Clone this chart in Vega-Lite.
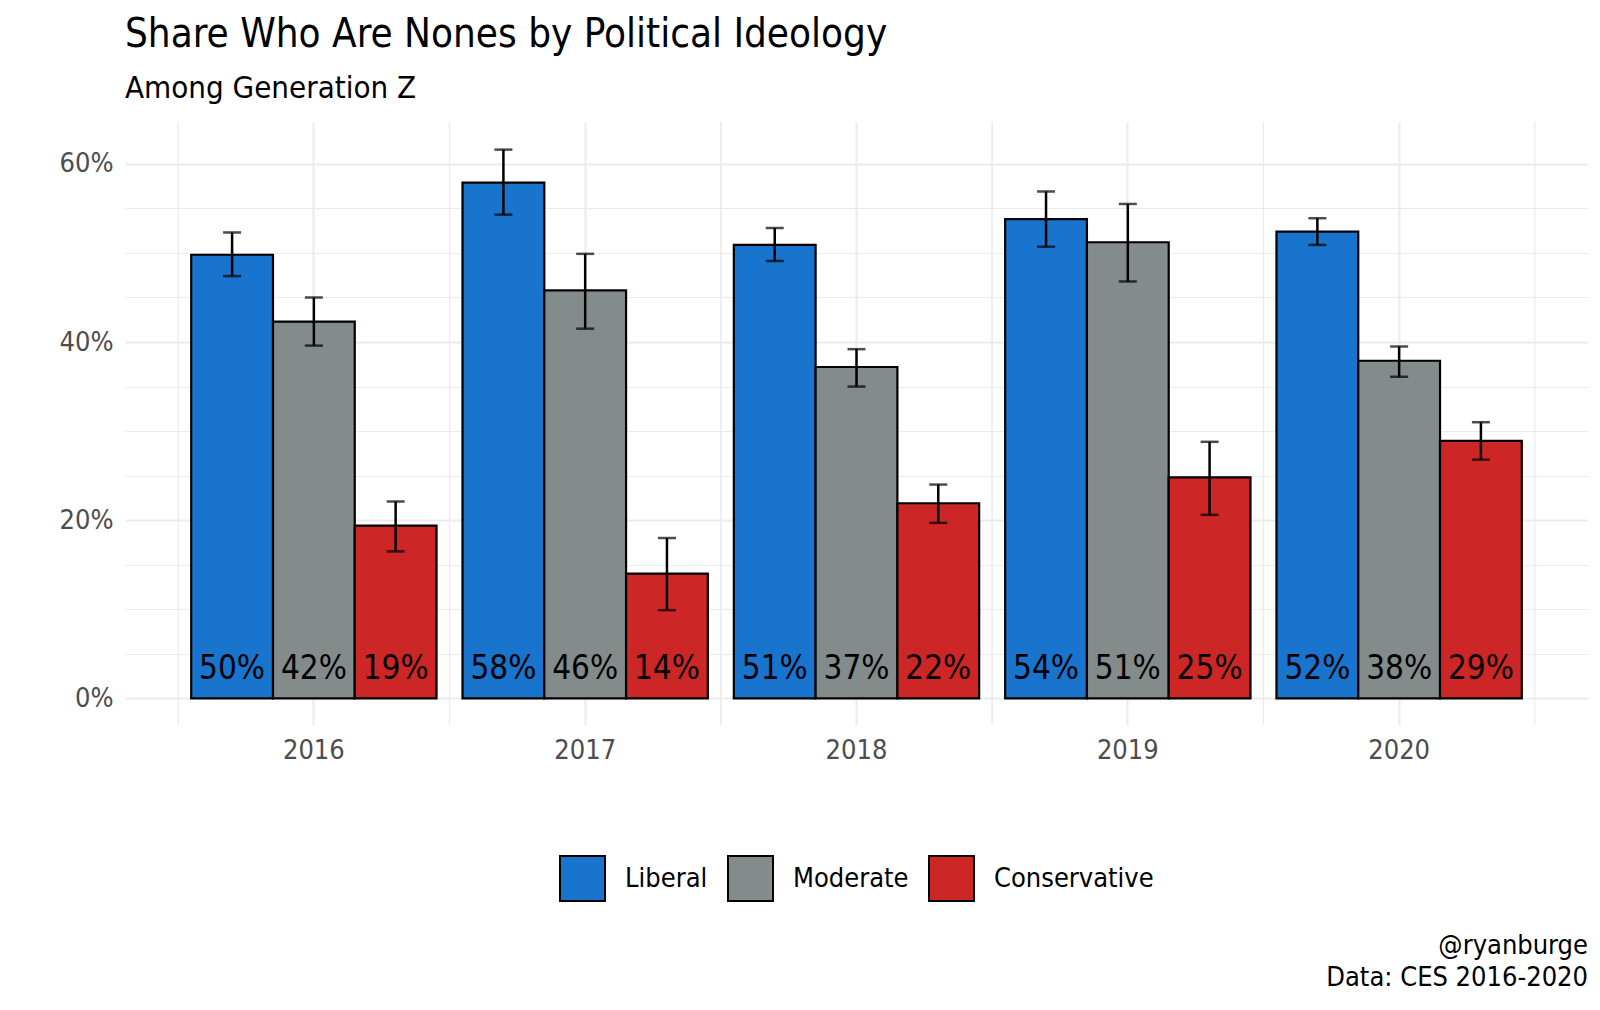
{
  "$schema": "https://vega.github.io/schema/vega-lite/v6.json",
  "background": "white",
  "padding": {"left": 59, "top": 15, "right": 12, "bottom": 5},
  "datasets": {
    "bars": [
      {"year": "2016", "ideology": "Liberal", "value": 0.498, "lo": 0.474, "hi": 0.523},
      {"year": "2016", "ideology": "Moderate", "value": 0.423, "lo": 0.396, "hi": 0.450},
      {"year": "2016", "ideology": "Conservative", "value": 0.194, "lo": 0.165, "hi": 0.221},
      {"year": "2017", "ideology": "Liberal", "value": 0.579, "lo": 0.543, "hi": 0.616},
      {"year": "2017", "ideology": "Moderate", "value": 0.458, "lo": 0.415, "hi": 0.499},
      {"year": "2017", "ideology": "Conservative", "value": 0.140, "lo": 0.099, "hi": 0.180},
      {"year": "2018", "ideology": "Liberal", "value": 0.509, "lo": 0.491, "hi": 0.528},
      {"year": "2018", "ideology": "Moderate", "value": 0.372, "lo": 0.350, "hi": 0.392},
      {"year": "2018", "ideology": "Conservative", "value": 0.219, "lo": 0.197, "hi": 0.240},
      {"year": "2019", "ideology": "Liberal", "value": 0.538, "lo": 0.507, "hi": 0.569},
      {"year": "2019", "ideology": "Moderate", "value": 0.512, "lo": 0.468, "hi": 0.555},
      {"year": "2019", "ideology": "Conservative", "value": 0.248, "lo": 0.206, "hi": 0.288},
      {"year": "2020", "ideology": "Liberal", "value": 0.524, "lo": 0.509, "hi": 0.539},
      {"year": "2020", "ideology": "Moderate", "value": 0.379, "lo": 0.361, "hi": 0.395},
      {"year": "2020", "ideology": "Conservative", "value": 0.289, "lo": 0.268, "hi": 0.310}
    ],
    "years": [
      {"year": "2016"}, {"year": "2017"}, {"year": "2018"}, {"year": "2019"}, {"year": "2020"}
    ]
  },
  "title": {
    "text": ["@ryanburge", "Data: CES 2016-2020"],
    "orient": "bottom",
    "anchor": "end",
    "frame": "group",
    "fontSize": 27,
    "fontWeight": "normal",
    "font": "DejaVu Sans Condensed, sans-serif",
    "color": "#000000",
    "lineHeight": 32,
    "offset": 28
  },
  "vconcat": [
    {
      "title": {
        "text": "Share Who Are Nones by Political Ideology",
        "subtitle": "Among Generation Z",
        "anchor": "start",
        "frame": "group",
        "fontSize": 40,
        "subtitleFontSize": 31,
        "fontWeight": "normal",
        "font": "DejaVu Sans Condensed, sans-serif",
        "subtitleFont": "DejaVu Sans Condensed, sans-serif",
        "color": "#000000",
        "subtitleColor": "#000000",
        "subtitlePadding": 19,
        "offset": 17
      },
      "width": 1463,
      "height": 603,
      "layer": [
        {
          "data": {"name": "years"},
          "mark": {"type": "rule", "color": "#ebebeb", "strokeWidth": 1.2},
          "encoding": {
            "x": {"field": "year", "type": "nominal", "bandPosition": -0.053}
          }
        },
        {
          "data": {"name": "years"},
          "mark": {"type": "rule", "color": "#ebebeb", "strokeWidth": 1.2},
          "encoding": {
            "x": {"field": "year", "type": "nominal", "bandPosition": 1.053}
          }
        },
        {
          "data": {"name": "bars"},
          "mark": {"type": "bar", "stroke": "#000000", "strokeWidth": 2.2},
          "encoding": {
            "x": {"field": "year", "type": "nominal"},
            "xOffset": {"field": "ideology", "type": "nominal", "sort": ["Liberal", "Moderate", "Conservative"], "scale": {"paddingInner": 0, "paddingOuter": 0}},
            "y": {"field": "value", "type": "quantitative", "scale": {"domain": [-0.0299, 0.647], "nice": false, "zero": false}},
            "fill": {
              "field": "ideology",
              "type": "nominal",
              "sort": ["Liberal", "Moderate", "Conservative"],
              "scale": {"domain": ["Liberal", "Moderate", "Conservative"], "range": ["#1874CD", "#838B8B", "#CD2626"]},
              "legend": {
                "title": null,
                "orient": "bottom",
                "direction": "horizontal",
                "symbolType": "square",
                "symbolSize": 2025,
                "symbolStrokeColor": "#000000",
                "symbolStrokeWidth": 2,
                "symbolOpacity": 1,
                "labelFontSize": 27,
                "labelLimit": 400,
                "labelFont": "DejaVu Sans Condensed, sans-serif",
                "labelColor": "#000000",
                "labelOffset": 19,
                "columnPadding": 16,
                "offset": 92
              }
            }
          }
        },
        {
          "data": {"name": "bars"},
          "mark": {"type": "rule", "color": "#000000", "strokeWidth": 2.5},
          "encoding": {
            "x": {"field": "year", "type": "nominal"},
            "xOffset": {"field": "ideology", "type": "nominal", "sort": ["Liberal", "Moderate", "Conservative"]},
            "y": {"field": "lo", "type": "quantitative"},
            "y2": {"field": "hi"}
          }
        },
        {
          "data": {"name": "bars"},
          "mark": {"type": "tick", "color": "#000000", "thickness": 2.5, "size": 18, "orient": "horizontal"},
          "encoding": {
            "x": {"field": "year", "type": "nominal"},
            "xOffset": {"field": "ideology", "type": "nominal", "sort": ["Liberal", "Moderate", "Conservative"]},
            "y": {"field": "lo", "type": "quantitative"}
          }
        },
        {
          "data": {"name": "bars"},
          "mark": {"type": "tick", "color": "#000000", "thickness": 2.5, "size": 18, "orient": "horizontal"},
          "encoding": {
            "x": {"field": "year", "type": "nominal"},
            "xOffset": {"field": "ideology", "type": "nominal", "sort": ["Liberal", "Moderate", "Conservative"]},
            "y": {"field": "hi", "type": "quantitative"}
          }
        },
        {
          "data": {"name": "bars"},
          "mark": {"type": "text", "color": "#000000", "fontSize": 33, "baseline": "alphabetic", "dy": -19, "font": "DejaVu Sans Condensed, sans-serif"},
          "encoding": {
            "x": {"field": "year", "type": "nominal"},
            "xOffset": {"field": "ideology", "type": "nominal", "sort": ["Liberal", "Moderate", "Conservative"]},
            "y": {"datum": 0, "type": "quantitative"},
            "text": {"field": "value", "type": "quantitative", "format": ".0%"}
          }
        }
      ],
      "encoding": {}
    }
  ],
  "config": {
    "view": {"stroke": null},
    "font": "DejaVu Sans Condensed, sans-serif",
    "scale": {"bandPaddingInner": 0.0958, "bandPaddingOuter": 0.244},
    "legend": {"layout": {"bottom": {"anchor": "middle"}}},
    "axisX": {
      "title": null,
      "labelAngle": 0,
      "labelFontSize": 27,
      "labelColor": "#4d4d4d",
      "labelPadding": 12,
      "ticks": false,
      "domain": false,
      "grid": true,
      "gridColor": "#ebebeb",
      "gridWidth": 2
    },
    "axisY": {
      "title": null,
      "labelFontSize": 27,
      "labelColor": "#4d4d4d",
      "labelPadding": 12,
      "ticks": false,
      "domain": false,
      "grid": true,
      "gridColor": "#ebebeb",
      "values": [0, 0.1, 0.2, 0.3, 0.4, 0.5, 0.6],
      "format": ".0%",
      "labelExpr": "round(datum.value * 100) % 20 === 0 ? datum.label : ''",
      "gridWidth": {"condition": {"test": "round(datum.value * 100) % 20 === 0", "value": 2}, "value": 1.2}
    }
  }
}
